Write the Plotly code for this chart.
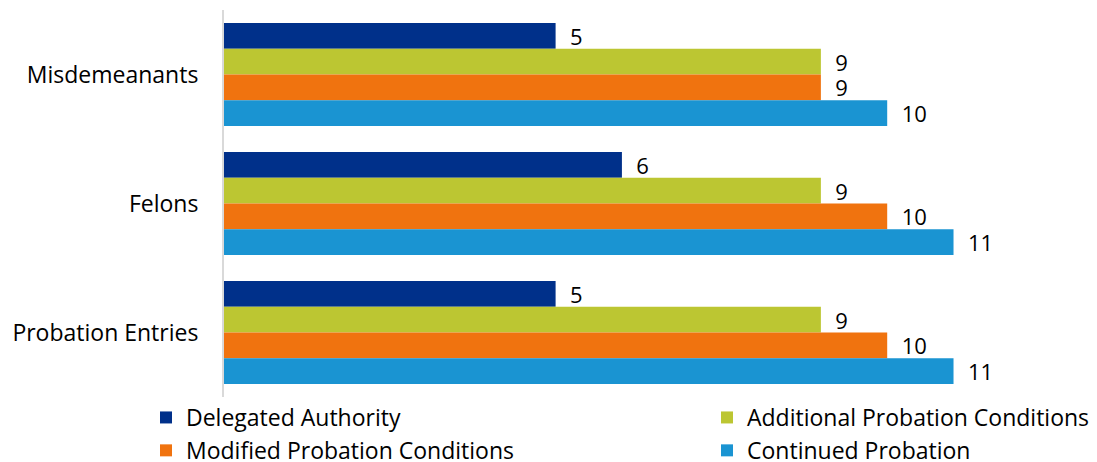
import plotly.graph_objects as go

categories = ["Misdemeanants", "Felons", "Probation Entries"]
series_names = ["Delegated Authority", "Additional Probation Conditions",
                "Modified Probation Conditions", "Continued Probation"]
delegated = [5, 6, 5]
additional = [9, 9, 9]
modified = [9, 10, 10]
continued = [10, 11, 11]
series_values = [delegated, additional, modified, continued]
colors = ["#00308A", "#BCC632", "#F0730F", "#1A94D2"]
legend_ids = ["legend", "legend2", "legend", "legend2"]

FONT = "Open Sans"

fig = go.Figure()
for name, vals, col, lg in zip(series_names, series_values, colors, legend_ids):
    fig.add_trace(go.Bar(
        y=categories, x=vals, name=name, orientation="h",
        marker=dict(color=col, line=dict(width=0)),
        text=vals, texttemplate="\u00a0\u00a0%{x}", textposition="outside",
        constraintext="none", cliponaxis=False,
        textfont=dict(family=FONT, size=22, color="#000000"),
        legend=lg,
    ))

W, H = 1089, 454
PL, PW, PT, PH = 216, 829, 2, 387

fig.update_layout(
    width=W, height=H,
    margin=dict(l=PL, r=W - PL - PW, t=PT, b=H - PT - PH, autoexpand=False),
    paper_bgcolor="white", plot_bgcolor="white",
    barmode="group", bargap=0.2, bargroupgap=0,
    font=dict(family=FONT, size=23, color="#000000"),
    xaxis=dict(range=[0, 12.5], showticklabels=False, showgrid=False,
               zeroline=False, showline=False, ticks="", automargin=False),
    yaxis=dict(categoryorder="array", categoryarray=categories,
               range=[2.5, -0.5], showgrid=False, zeroline=False,
               showline=True, linecolor="#D9D9D9", linewidth=2,
               ticks="", ticklabelstandoff=19, automargin=False,
               tickfont=dict(family=FONT, size=23, color="#000000")),
    showlegend=True,
    legend=dict(orientation="v",
                x=(138 - PL) / PW, xanchor="left",
                y=(PT + PH - 388) / PH, yanchor="top",
                font=dict(family=FONT, size=23, color="#000000"),
                bgcolor="rgba(0,0,0,0)", tracegroupgap=0),
    legend2=dict(orientation="v",
                 x=(699 - PL) / PW, xanchor="left",
                 y=(PT + PH - 388) / PH, yanchor="top",
                 font=dict(family=FONT, size=23, color="#000000"),
                 bgcolor="rgba(0,0,0,0)", tracegroupgap=0),
)

fig.write_html("out.html")
